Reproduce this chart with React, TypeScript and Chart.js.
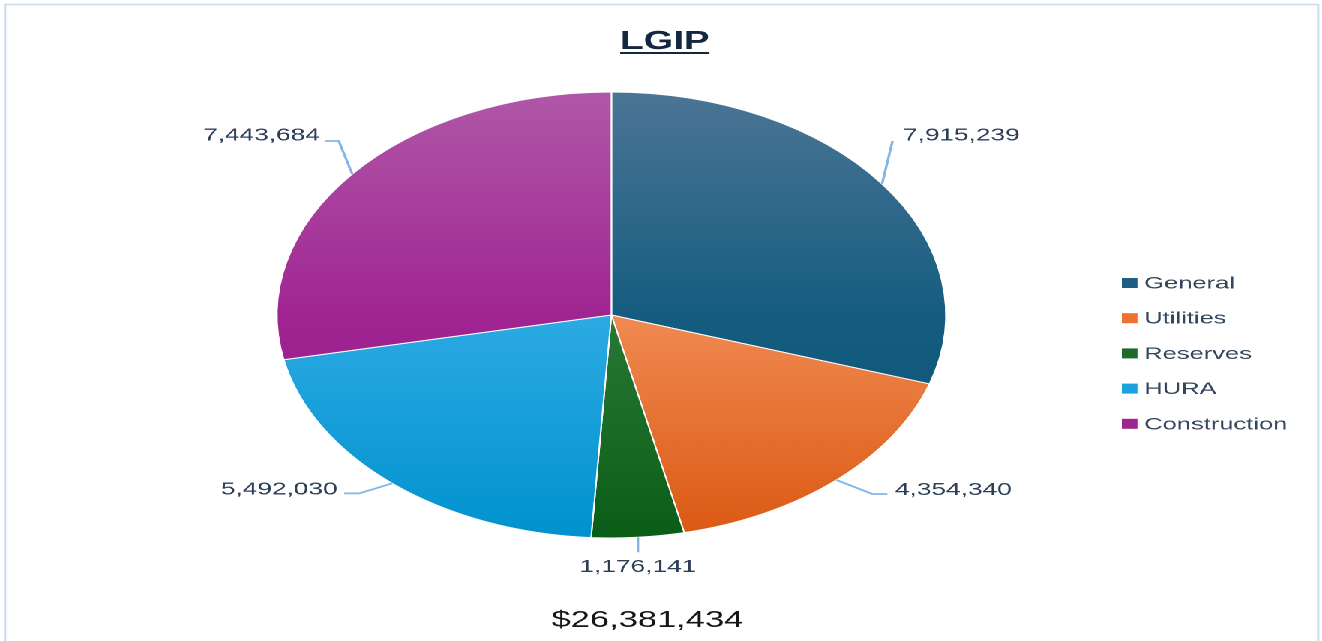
import React, { useEffect, useRef } from "react";
import { Chart, registerables } from "chart.js";

Chart.register(...registerables);

// ---- data ----
const categories = ["General", "Utilities", "Reserves", "HURA", "Construction"];
const values = [7915239, 4354340, 1176141, 5492030, 7443684];
const chartTitle = "LGIP";

// ---- colours ----
const legendColors = ["#1d5f84", "#ee7130", "#1e6b2a", "#1aa2de", "#9e2490"];
const gradTop = ["#4c7595", "#f6aa80", "#4f9258", "#6cc4ef", "#b058a8"];
const gradMid = ["#155d80", "#f08a52", "#2a7937", "#2caae3", "#a02592"];
const gradBottom = ["#0a5374", "#db5812", "#0a5d16", "#0092ce", "#931886"];

// ---- layout (canvas drawn narrow, then stretched horizontally) ----
const S = 1.5;
const W = 1322 / S;
const H = 641;

// label placement relative to the slice's outer mid point
const labelLayout = [
  { dx: 14, dy: -43.3, align: "left", path: [[7, -43]] },
  { dx: 39, dy: 15, align: "left", path: [[24, 14], [34, 14]] },
  { dx: 0, dy: 34.7, align: "center", path: [[0, 15]] },
  { dx: -36.4, dy: 11.3, align: "right", path: [[-22, 10], [-32, 10]] },
  { dx: -21.6, dy: -33.3, align: "right", path: [[-9, -33], [-18, -33]] },
];

const fmt = (v: number) => v.toLocaleString("en-US");

const decorPlugin = {
  id: "decor",
  beforeDraw(chart: any) {
    const ctx = chart.ctx;
    ctx.save();
    ctx.fillStyle = "#ffffff";
    ctx.fillRect(0, 0, W, H);
    ctx.strokeStyle = "#c8dcf1";
    ctx.lineWidth = 1.5;
    ctx.strokeRect(3.4, 4.5, W - 5.8, H + 20);
    ctx.restore();
  },
  afterDraw(chart: any) {
    const ctx = chart.ctx;
    ctx.save();
    // title
    ctx.fillStyle = "#15263f";
    ctx.font = "bold 25.5px 'Liberation Sans', Arial, sans-serif";
    ctx.textAlign = "center";
    ctx.textBaseline = "alphabetic";
    ctx.fillText(chartTitle, 443.3, 49);
    const tw = ctx.measureText(chartTitle).width;
    ctx.fillRect(443.3 - tw / 2, 52, tw, 2);

    // data labels + leader lines
    const meta = chart.getDatasetMeta(0);
    meta.data.forEach((arc: any, i: number) => {
      const p = arc.getProps(["x", "y", "startAngle", "endAngle", "outerRadius"], true);
      const mid = (p.startAngle + p.endAngle) / 2;
      const ex = p.x + p.outerRadius * Math.cos(mid);
      const ey = p.y + p.outerRadius * Math.sin(mid);
      const lay = labelLayout[i];
      ctx.strokeStyle = "#82b5e8";
      ctx.lineWidth = 1.7;
      ctx.beginPath();
      ctx.moveTo(ex, ey);
      lay.path.forEach((pt) => ctx.lineTo(ex + pt[0], ey + pt[1]));
      ctx.stroke();
      ctx.fillStyle = "#2c3f57";
      ctx.font = "17.5px 'Liberation Sans', Arial, sans-serif";
      ctx.textAlign = lay.align as CanvasTextAlign;
      ctx.textBaseline = "alphabetic";
      ctx.fillText(fmt(values[i]), ex + lay.dx, ey + lay.dy);
    });

    // legend
    ctx.font = "17px 'Liberation Sans', Arial, sans-serif";
    ctx.textAlign = "left";
    categories.forEach((c, i) => {
      const cy = 283 + i * 35.2;
      ctx.fillStyle = legendColors[i];
      ctx.fillRect(748, cy - 5, 10.4, 10);
      ctx.fillStyle = "#34465c";
      ctx.fillText(c, 762.9, cy + 5.5);
    });

    // total
    const total = values.reduce((a, b) => a + b, 0);
    ctx.fillStyle = "#161616";
    ctx.font = "23px 'Liberation Sans', Arial, sans-serif";
    ctx.textAlign = "center";
    ctx.fillText("$" + fmt(total), 431.7, 627);
    ctx.restore();
  },
};

export default function App() {
  const ref = useRef<HTMLCanvasElement | null>(null);
  useEffect(() => {
    if (!ref.current) return;
    const chart = new Chart(ref.current, {
      type: "pie",
      data: {
        labels: categories,
        datasets: [
          {
            data: values,
            borderColor: "#ffffff",
            borderWidth: 1,
            backgroundColor: (c: any) => {
              const i = c.dataIndex ?? 0;
              const area = c.chart.chartArea;
              if (!area) return legendColors[i];
              const g = c.chart.ctx.createLinearGradient(0, area.top, 0, area.bottom);
              g.addColorStop(0, gradTop[i]);
              g.addColorStop(0.5, gradMid[i]);
              g.addColorStop(1, gradBottom[i]);
              return g;
            },
          },
        ],
      },
      options: {
        animation: false,
        responsive: true,
        maintainAspectRatio: false,
        devicePixelRatio: 2,
        layout: { padding: { top: 91, bottom: 102, left: 184.2, right: W - 631.2 } },
        plugins: {
          legend: { display: false },
          title: { display: false },
          tooltip: { enabled: false },
        },
      },
      plugins: [decorPlugin],
    });
    return () => chart.destroy();
  }, []);

  return (
    <div
      style={{
        position: "fixed",
        left: 0,
        top: 0,
        width: W + "px",
        height: H + "px",
        transform: `scaleX(${S})`,
        transformOrigin: "0 0",
        background: "#fff",
      }}
    >
      <canvas ref={ref} />
    </div>
  );
}
